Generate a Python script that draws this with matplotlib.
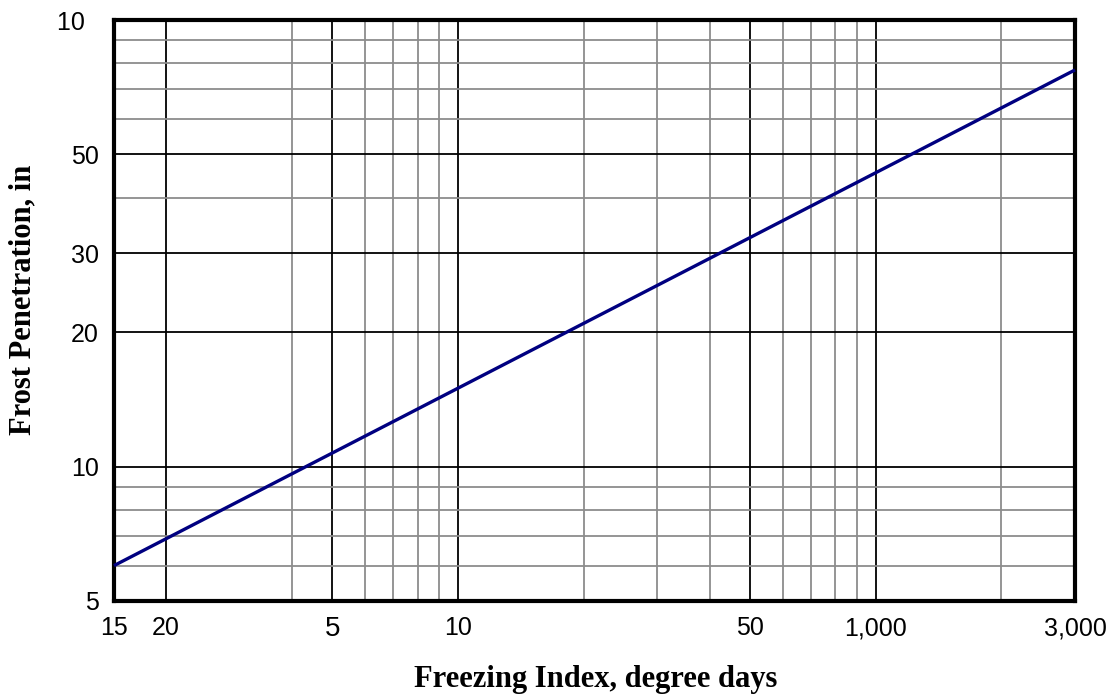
import matplotlib
matplotlib.use("Agg")
import matplotlib.pyplot as plt
from matplotlib.ticker import NullFormatter

# Line (straight on log-log)
freezing_index = [15, 3000]
frost_depth = [6.0, 77.3]

# Axis ticks and labels (as printed on the original)
x_major = [15, 20, 50, 100, 500, 1000, 3000]
x_labels = ["15", "20", "5", "10", "50", "1,000", "3,000"]
x_minor = [40, 60, 70, 80, 90, 200, 300, 400, 600, 700, 800, 900, 2000]
y_major = [5, 10, 20, 30, 50, 100]
y_labels = ["5", "10", "20", "30", "50", "10  "]
y_minor = [6, 7, 8, 9, 40, 60, 70, 80, 90]

fig = plt.figure(figsize=(11.11, 6.95), dpi=100)
ax = fig.add_axes([0.1026, 0.1353, 0.865, 0.8359])

ax.set_xscale("log")
ax.set_yscale("log")
ax.set_xlim(15, 3000)
ax.set_ylim(5, 100)

ax.set_xticks(x_major)
ax.set_xticklabels(x_labels)
ax.set_xticks(x_minor, minor=True)
ax.xaxis.set_minor_formatter(NullFormatter())
ax.set_yticks(y_major)
ax.set_yticklabels(y_labels)
ax.set_yticks(y_minor, minor=True)
ax.yaxis.set_minor_formatter(NullFormatter())

ax.tick_params(which="both", length=0)
ax.tick_params(axis="x", pad=11)
ax.tick_params(axis="y", pad=11)
for lab in ax.get_xticklabels() + ax.get_yticklabels():
    lab.set_family("Liberation Sans")
    lab.set_fontsize(18)
ax.get_xticklabels()[2].set_fontsize(20)  # the "5" is printed a bit larger

ax.set_axisbelow(True)
ax.grid(which="major", color="black", linewidth=1.3)
ax.grid(which="minor", color="#8c8c8c", linewidth=1.3)

for sp in ax.spines.values():
    sp.set_linewidth(3)
    sp.set_color("black")

ax.plot(freezing_index, frost_depth, color="#000080", linewidth=2.4,
        solid_capstyle="butt", clip_on=False, zorder=5)

# Axis titles
fig.text(0.536, 1 - 680 / 695, "Freezing Index, degree days",
         family="Liberation Serif", fontweight="bold", fontsize=22,
         ha="center", va="center")
fig.text(0.0207, 1 - 300 / 695, "Frost Penetration, in",
         family="Liberation Serif", fontweight="bold", fontsize=22,
         ha="center", va="center", rotation=90)

fig.savefig("out.png", dpi=100)
